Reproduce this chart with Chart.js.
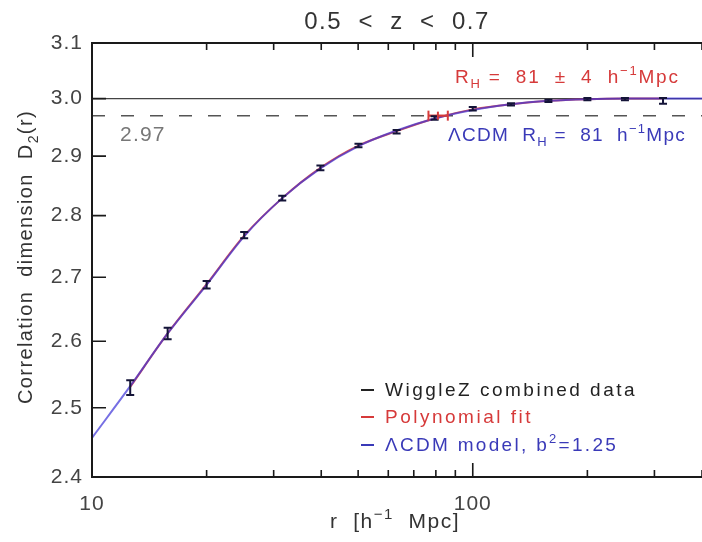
<!DOCTYPE html>
<html>
<head>
<meta charset="utf-8">
<script src="https://cdn.jsdelivr.net/npm/chart.js@4/dist/chart.umd.min.js"></script>
<style>
html,body{margin:0;padding:0;background:#fff;overflow:hidden}
canvas{display:block}
</style>
</head>
<body>
<canvas id="c" width="702" height="542"></canvas>
<script>
// ---- data ----
const rValues   = [12.6, 15.8, 20.0, 25.1, 31.6, 39.8, 50.1, 63.1, 79.4, 100, 126, 158, 200, 251, 316];
const d2Values  = [2.530, 2.612, 2.688, 2.768, 2.829, 2.880, 2.918, 2.942, 2.966, 2.982, 2.990, 2.996, 2.999, 2.999, 2.996];
const d2Errors  = [0.011, 0.009, 0.006, 0.005, 0.004, 0.004, 0.003, 0.003, 0.003, 0.003, 0.002, 0.002, 0.002, 0.002, 0.005];

const modelR    = [10, 12.6, 15.8, 20.0, 25.1, 31.6, 39.8, 50.1, 63.1, 79.4, 100, 126, 158, 200, 251, 316, 400];
const modelD2   = [2.456, 2.532, 2.612, 2.688, 2.766, 2.829, 2.879, 2.917, 2.944, 2.965, 2.980, 2.990, 2.996, 2.999, 3.000, 3.000, 3.000];

const polyR     = [12.6, 15.8, 20.0, 25.1, 31.6, 39.8, 50.1, 63.1, 79.4, 100, 126, 158, 200, 251, 316];
const polyD2    = [2.531, 2.612, 2.689, 2.767, 2.829, 2.880, 2.918, 2.943, 2.965, 2.981, 2.990, 2.996, 2.999, 3.000, 3.000];

const rhRange   = [76.5, 86];   // polynomial-fit R_H error bar (h^-1 Mpc)
const rhCenter  = [81];
const rhLevel   = [2.97];
const unityLevel = [3.0];

const yTickValues  = [2.4, 2.5, 2.6, 2.7, 2.8, 2.9, 3.0, 3.1];
const xTickValues  = [10, 20, 30, 40, 50, 60, 70, 80, 90, 100, 200, 300, 400];
const xLabelValues = [10, 100];
const xRange = [10, 400];
const yRange = [2.4, 3.1];

const titleText = '0.5  <  z  <  0.7';
const legendLabels = ['WiggleZ combined data', 'Polynomial fit', '\u039BCDM model, b\u00B2=1.25'];

// ---- colours ----
const RED = '#d63a3a';
const BLUE = '#3a3ab8';
const INK = '#333333';
const FONT = '"Liberation Sans", Arial, sans-serif';

function pts(xs, ys) { return xs.map((x, i) => ({x: x, y: ys[i]})); }

function richWidth(ctx, parts, size, spacing) {
  let w = 0;
  ctx.save();
  for (const p of parts) {
    const fs = p.s ? Math.round(size * 0.7) : size;
    ctx.font = fs + 'px ' + FONT;
    ctx.letterSpacing = spacing + 'px';
    w += ctx.measureText(p.t).width;
  }
  ctx.restore();
  return w;
}

function rich(ctx, x, y, parts, color, size, spacing) {
  ctx.save();
  ctx.fillStyle = color;
  ctx.textBaseline = 'alphabetic';
  ctx.textAlign = 'left';
  let cx = x;
  for (const p of parts) {
    const fs = p.s ? Math.round(size * 0.7) : size;
    ctx.font = fs + 'px ' + FONT;
    ctx.letterSpacing = spacing + 'px';
    const dy = p.s === 'sub' ? size * 0.28 : (p.s === 'sup' ? -size * 0.42 : 0);
    ctx.fillText(p.t, cx, y + dy);
    cx += ctx.measureText(p.t).width;
  }
  ctx.restore();
  return cx;
}

const spacing = {
  id: 'spacing',
  beforeDraw(chart) { chart.ctx.letterSpacing = '1px'; }
};

const decor = {
  id: 'decor',
  afterDatasetsDraw(chart) {
    const ctx = chart.ctx;
    const xs = chart.scales.x, ys = chart.scales.y;
    const ca = chart.chartArea;

    // error bars on data
    ctx.save();
    ctx.strokeStyle = '#141438';
    ctx.lineWidth = 2;
    rValues.forEach((r, i) => {
      const px = xs.getPixelForValue(r);
      const y1 = ys.getPixelForValue(d2Values[i] - d2Errors[i]);
      const y2 = ys.getPixelForValue(d2Values[i] + d2Errors[i]);
      ctx.beginPath();
      ctx.moveTo(px, y1); ctx.lineTo(px, y2);
      ctx.moveTo(px - 4, y1); ctx.lineTo(px + 4, y1);
      ctx.moveTo(px - 4, y2); ctx.lineTo(px + 4, y2);
      ctx.stroke();
    });
    ctx.restore();

    // R_H error bar caps
    ctx.save();
    ctx.strokeStyle = RED;
    ctx.lineWidth = 2;
    const ry = ys.getPixelForValue(rhLevel[0]);
    [rhRange[0], rhRange[1], rhCenter[0]].forEach((v, k) => {
      const px = xs.getPixelForValue(v);
      const h = k < 2 ? 5 : 4;
      ctx.beginPath(); ctx.moveTo(px, ry - h); ctx.lineTo(px, ry + h); ctx.stroke();
    });
    ctx.restore();

    // frame and inward ticks
    ctx.save();
    ctx.strokeStyle = '#1a1a1a';
    ctx.lineWidth = 2;
    ctx.beginPath();
    ctx.moveTo(ca.left, ca.top); ctx.lineTo(ca.right + 2, ca.top);
    ctx.moveTo(ca.left, ca.top - 1); ctx.lineTo(ca.left, ca.bottom + 1);
    ctx.moveTo(ca.left - 1, ca.bottom); ctx.lineTo(ca.right + 2, ca.bottom);
    ctx.stroke();
    ctx.lineWidth = 1.6;
    ctx.beginPath();
    yTickValues.forEach(v => {
      const py = ys.getPixelForValue(v);
      ctx.moveTo(ca.left, py); ctx.lineTo(ca.left + 14, py);
    });
    xTickValues.forEach(v => {
      const px = xs.getPixelForValue(v);
      const len = xLabelValues.includes(v) ? 14 : 7;
      ctx.moveTo(px, ca.bottom); ctx.lineTo(px, ca.bottom - len);
      ctx.moveTo(px, ca.top); ctx.lineTo(px, ca.top + len);
    });
    ctx.stroke();
    ctx.restore();

    // title
    ctx.save();
    ctx.fillStyle = INK;
    ctx.font = '24px ' + FONT;
    ctx.letterSpacing = '1.5px';
    ctx.textAlign = 'center';
    ctx.textBaseline = 'alphabetic';
    ctx.fillText(titleText, (ca.left + ca.right) / 2, 29);
    ctx.restore();

    // x axis title
    const xt = [{t:'r  [h'},{t:'\u22121', s:'sup'},{t:'  Mpc]'}];
    const xw = richWidth(ctx, xt, 21, 1.5);
    rich(ctx, 395 - xw / 2, 528, xt, INK, 21, 1.5);

    // y axis title (rotated)
    const yt = [{t:'Correlation  dimension  D'},{t:'2', s:'sub'},{t:'(r)'}];
    const yw = richWidth(ctx, yt, 20, 1.4);
    ctx.save();
    ctx.translate(32, (ca.top + ca.bottom) / 2 - 3);
    ctx.rotate(-Math.PI / 2);
    rich(ctx, -yw / 2, 0, yt, INK, 20, 1.4);
    ctx.restore();

    // annotations
    rich(ctx, 455, 83, [{t:'R'},{t:'H', s:'sub'},{t:' =  81  \u00B1  4  h'},{t:'\u22121', s:'sup'},{t:'Mpc'}], RED, 19, 1.8);
    rich(ctx, 448, 141, [{t:'\u039BCDM  R'},{t:'H', s:'sub'},{t:' =  81  h'},{t:'\u22121', s:'sup'},{t:'Mpc'}], BLUE, 19, 1.3);
    rich(ctx, 120, 141, [{t:'2.97'}], '#777777', 21, 1.2);

    // legend
    const legColors = ['#222222', RED, BLUE];
    const legBase = [396, 423, 451];
    legendLabels.forEach((lab, i) => {
      ctx.save();
      ctx.strokeStyle = legColors[i];
      ctx.lineWidth = 2;
      ctx.beginPath(); ctx.moveTo(361, legBase[i] - 6); ctx.lineTo(374, legBase[i] - 6); ctx.stroke();
      ctx.restore();
      if (i === 2) {
        rich(ctx, 385, legBase[i], [{t:'\u039BCDM model, b'},{t:'2', s:'sup'},{t:'=1.25'}], legColors[i], 19, 2.3);
      } else {
        rich(ctx, 385, legBase[i], [{t:lab}], legColors[i], 19, 2.5);
      }
    });
  }
};

// Chart.js draws lower dataset indexes on top
new Chart(document.getElementById('c'), {
  type: 'line',
  data: {
    datasets: [
      { data: pts(rhRange, [rhLevel[0], rhLevel[0]]), borderColor: RED, borderWidth: 2.2, pointRadius: 0 },
      { data: pts(rValues, d2Values), showLine: false, pointRadius: 0, borderColor: '#141438' },
      { data: pts(modelR, modelD2), borderColor: 'rgba(60,50,215,0.7)', borderWidth: 2, pointRadius: 0, cubicInterpolationMode: 'monotone' },
      { data: pts(polyR, polyD2), borderColor: 'rgba(214,58,58,0.85)', borderWidth: 2, pointRadius: 0, cubicInterpolationMode: 'monotone' },
      { data: pts(xRange, [unityLevel[0], unityLevel[0]]), borderColor: '#444444', borderWidth: 1.3, pointRadius: 0 },
      { data: pts(xRange, [rhLevel[0], rhLevel[0]]), borderColor: '#555555', borderWidth: 1.5, borderDash: [13, 16], pointRadius: 0 }
    ]
  },
  options: {
    responsive: false,
    animation: false,
    events: [],
    layout: { padding: { top: 43, right: 0, bottom: 0, left: 0 } },
    plugins: { legend: { display: false }, tooltip: { enabled: false }, title: { display: false } },
    scales: {
      x: {
        type: 'logarithmic',
        min: xRange[0], max: xRange[1],
        grid: { display: false, drawTicks: false },
        border: { display: false },
        afterBuildTicks: s => { s.ticks = xTickValues.map(v => ({ value: v })); },
        afterFit: s => { s.height = 65; s.paddingLeft = 0; s.paddingRight = 0; },
        ticks: {
          autoSkip: false, maxRotation: 0, padding: 15,
          color: '#444', font: { family: FONT, size: 21 },
          callback: v => xLabelValues.includes(v) ? String(v) : ''
        },
        title: { display: false }
      },
      y: {
        type: 'logarithmic',
        min: yRange[0], max: yRange[1],
        grid: { display: false, drawTicks: false },
        border: { display: false },
        afterBuildTicks: s => { s.ticks = yTickValues.map(v => ({ value: v })); },
        afterFit: s => { s.width = 92; s.paddingTop = 0; s.paddingBottom = 0; },
        ticks: {
          autoSkip: false, padding: 9,
          color: '#444', font: { family: FONT, size: 21 },
          callback: v => Number(v).toFixed(1)
        },
        title: { display: false }
      }
    }
  },
  plugins: [spacing, decor]
});
</script>
</body>
</html>
